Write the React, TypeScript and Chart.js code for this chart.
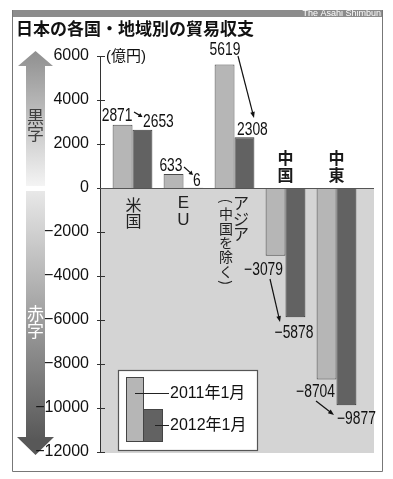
import React, { useEffect, useRef } from 'react';
import { Chart, registerables } from 'chart.js';

Chart.register(...registerables);

const categories = ['米国', 'EU', 'アジア', '中国', '中東'];
const categoryNotes = ['', '', '中国を除く', '', ''];
const seriesLabels = ['2011年1月', '2012年1月'];
const values2011 = [2871, 633, 5619, -3079, -8704];
const values2012 = [2653, 6, 2308, -5878, -9877];
const yMin = -12000;
const yMax = 6000;
const yStep = 2000;
const unitLabel = '(億円)';
const titleText = '日本の各国・地域別の貿易収支';
const sourceText = 'The Asahi Shimbun';
const surplusText = '黒字';
const deficitText = '赤字';

const W = 393;
const H = 479;
const PLOT_L = 100;
const PLOT_R = 374;
const CJK = '"Noto Sans CJK JP", sans-serif';
const LAT = '"Liberation Sans", Arial, sans-serif';

const fmt = (v: number) => (v < 0 ? '\u2212' + Math.abs(v) : String(v));

function ntext(ctx: CanvasRenderingContext2D, s: string, x: number, y: number, align: CanvasTextAlign) {
  ctx.save();
  ctx.translate(x, y);
  ctx.scale(0.77, 1);
  ctx.textAlign = align;
  ctx.fillText(s, 0, 0);
  ctx.restore();
}

function arrow(ctx: CanvasRenderingContext2D, x1: number, y1: number, x2: number, y2: number, head = 5) {
  const a = Math.atan2(y2 - y1, x2 - x1);
  ctx.beginPath();
  ctx.moveTo(x1, y1);
  ctx.lineTo(x2 - Math.cos(a) * head * 0.8, y2 - Math.sin(a) * head * 0.8);
  ctx.stroke();
  ctx.beginPath();
  ctx.moveTo(x2, y2);
  ctx.lineTo(x2 - head * Math.cos(a) + 2.3 * Math.sin(a), y2 - head * Math.sin(a) - 2.3 * Math.cos(a));
  ctx.lineTo(x2 - head * Math.cos(a) - 2.3 * Math.sin(a), y2 - head * Math.sin(a) + 2.3 * Math.cos(a));
  ctx.closePath();
  ctx.fill();
}

function vtext(ctx: CanvasRenderingContext2D, s: string, cx: number, y: number, step: number) {
  const chars = Array.from(s);
  chars.forEach((ch, i) => ctx.fillText(ch, cx, y + i * step));
}

const decor = {
  id: 'decor',
  beforeDraw(chart: any) {
    const ctx: CanvasRenderingContext2D = chart.ctx;
    const ys = chart.scales.y;
    const y0 = ys.getPixelForValue(0);
    const yb = ys.getPixelForValue(yMin);
    ctx.save();
    // header stripe
    ctx.fillStyle = '#8c8c8c';
    ctx.fillRect(12, 10, 371, 7);
    ctx.fillStyle = '#fff';
    ctx.font = '9px ' + LAT;
    ctx.textAlign = 'right';
    ctx.textBaseline = 'middle';
    ctx.fillText(sourceText, 381, 13.5);
    // frame
    ctx.strokeStyle = '#777';
    ctx.lineWidth = 1;
    ctx.beginPath();
    ctx.moveTo(12.5, 10);
    ctx.lineTo(12.5, 471.5);
    ctx.lineTo(382.5, 471.5);
    ctx.lineTo(382.5, 10);
    ctx.stroke();
    // title
    ctx.fillStyle = '#111';
    ctx.font = 'bold 17px ' + CJK;
    ctx.textAlign = 'left';
    ctx.fillText(titleText, 16, 29);
    // negative area
    ctx.fillStyle = '#d4d4d4';
    ctx.fillRect(PLOT_L, y0, PLOT_R - PLOT_L, yb - y0 + 1);
    // up arrow
    let g = ctx.createLinearGradient(0, 51, 0, 186);
    g.addColorStop(0, '#8f8f8f');
    g.addColorStop(1, '#f4f4f4');
    ctx.fillStyle = g;
    ctx.beginPath();
    ctx.moveTo(35.5, 51);
    ctx.lineTo(53, 66);
    ctx.lineTo(45, 66);
    ctx.lineTo(45, 186);
    ctx.lineTo(26, 186);
    ctx.lineTo(26, 66);
    ctx.lineTo(18, 66);
    ctx.closePath();
    ctx.fill();
    // down arrow
    g = ctx.createLinearGradient(0, 191, 0, 440);
    g.addColorStop(0, '#e8e8e8');
    g.addColorStop(1, '#585858');
    ctx.fillStyle = g;
    ctx.beginPath();
    ctx.moveTo(26, 191);
    ctx.lineTo(45, 191);
    ctx.lineTo(45, 437);
    ctx.lineTo(54, 437);
    ctx.lineTo(35.5, 455);
    ctx.lineTo(17, 437);
    ctx.lineTo(26, 437);
    ctx.closePath();
    ctx.fill();
    ctx.textAlign = 'center';
    ctx.textBaseline = 'middle';
    ctx.font = '17px ' + CJK;
    ctx.fillStyle = '#404040';
    vtext(ctx, surplusText, 35.5, 117, 17);
    ctx.fillStyle = '#ffffff';
    vtext(ctx, deficitText, 35.5, 314, 17);
    ctx.restore();
  },
  afterDatasetsDraw(chart: any) {
    const ctx: CanvasRenderingContext2D = chart.ctx;
    const ys = chart.scales.y;
    const xs = chart.scales.x;
    const py = (v: number) => ys.getPixelForValue(v);
    const gc = (i: number) => xs.getPixelForValue(i);
    const y0 = py(0);
    ctx.save();
    // axis
    ctx.strokeStyle = '#333';
    ctx.lineWidth = 1;
    ctx.beginPath();
    ctx.moveTo(100.5, py(yMax));
    ctx.lineTo(100.5, py(yMin));
    for (let v = yMin; v <= yMax; v += yStep) {
      const yy = Math.round(py(v)) + 0.5;
      ctx.moveTo(97, yy);
      ctx.lineTo(105, yy);
    }
    ctx.stroke();
    ctx.strokeStyle = '#555';
    ctx.beginPath();
    ctx.moveTo(PLOT_L, Math.round(y0) + 0.5);
    ctx.lineTo(PLOT_R, Math.round(y0) + 0.5);
    ctx.stroke();
    // unit
    ctx.fillStyle = '#111';
    ctx.font = '15px "Liberation Sans", ' + CJK;
    ctx.textAlign = 'left';
    ctx.textBaseline = 'middle';
    ctx.fillText(unitLabel, 106, 57);

    // category labels
    ctx.textAlign = 'center';
    ctx.fillStyle = '#222';
    ctx.font = '16px ' + CJK;
    vtext(ctx, categories[0], gc(0) + 1, y0 + 17, 16);
    ctx.font = '17px ' + LAT;
    vtext(ctx, categories[1], gc(1), y0 + 15, 17);
    ctx.font = '16px ' + CJK;
    vtext(ctx, categories[2], gc(2) + 6.5, y0 + 15, 15.5);
    ctx.font = '14px ' + CJK;
    const nx = gc(2) - 8.5;
    const noteChars = Array.from(categoryNotes[2]);
    ctx.save();
    ctx.translate(nx, y0 + 13);
    ctx.rotate(Math.PI / 2);
    ctx.fillText('(', 0, 0);
    ctx.restore();
    vtext(ctx, categoryNotes[2], nx, y0 + 26, 14.3);
    ctx.save();
    ctx.translate(nx, y0 + 26 + noteChars.length * 14.3 - 3);
    ctx.rotate(Math.PI / 2);
    ctx.fillText(')', 0, 0);
    ctx.restore();
    ctx.font = 'bold 16px ' + CJK;
    ctx.fillStyle = '#1a1a1a';
    vtext(ctx, categories[3], gc(3), y0 - 30, 17);
    vtext(ctx, categories[4], gc(4), y0 - 30, 17);

    // data labels
    ctx.fillStyle = '#111';
    ctx.strokeStyle = '#111';
    ctx.lineWidth = 1.2;
    ctx.font = '18px ' + LAT;
    ctx.textBaseline = 'alphabetic';
    // US
    ntext(ctx, fmt(values2011[0]), gc(0), py(values2011[0]) - 3.5, 'right');
    arrow(ctx, gc(0) + 1.5, 112, gc(0) + 10, 117, 4);
    ntext(ctx, fmt(values2012[0]), gc(0) + 10.5, py(values2012[0]) - 2.5, 'left');
    // EU
    ntext(ctx, fmt(values2011[1]), gc(1) - 1, py(values2011[1]) - 3, 'right');
    arrow(ctx, gc(1) + 0.5, 167, gc(1) + 9.5, 175, 4);
    ntext(ctx, fmt(values2012[1]), gc(1) + 9.5, py(values2012[1]) - 1.5, 'left');
    // Asia
    ntext(ctx, fmt(values2011[2]), gc(2) - 9.5, py(values2011[2]) - 9, 'center');
    arrow(ctx, gc(2) + 3.5, 56, gc(2) + 19.5, 118, 6);
    ntext(ctx, fmt(values2012[2]), gc(2) + 2.5, py(values2012[2]) - 2, 'left');
    // China
    ntext(ctx, fmt(values2011[3]), gc(3) - 2.5, py(values2011[3]) + 19.5, 'right');
    arrow(ctx, gc(3) - 15.5, 279, gc(3) - 5.5, 322, 6);
    ntext(ctx, fmt(values2012[3]), gc(3) + 8.5, py(values2012[3]) + 20.5, 'center');
    // Middle East
    ntext(ctx, fmt(values2011[4]), gc(4) - 1.5, py(values2011[4]) + 18, 'right');
    arrow(ctx, gc(4) - 20.5, 401, gc(4) - 2.5, 415, 6);
    ntext(ctx, fmt(values2012[4]), gc(4) + 0.5, py(values2012[4]) + 18.5, 'left');

    // legend
    const ds = chart.data.datasets;
    ctx.fillStyle = '#fff';
    ctx.fillRect(118.5, 370.5, 139, 80);
    ctx.strokeStyle = '#555';
    ctx.lineWidth = 1.2;
    ctx.strokeRect(118.5, 370.5, 139, 80);
    ctx.lineWidth = 1;
    ctx.strokeStyle = '#444';
    ctx.fillStyle = ds[0].backgroundColor;
    ctx.fillRect(126.5, 377.5, 17, 64);
    ctx.strokeRect(126.5, 377.5, 17, 64);
    ctx.fillStyle = ds[1].backgroundColor;
    ctx.fillRect(143.5, 409.5, 19, 32);
    ctx.strokeRect(143.5, 409.5, 19, 32);
    ctx.strokeStyle = '#222';
    ctx.beginPath();
    ctx.moveTo(135, 393.5);
    ctx.lineTo(169, 393.5);
    ctx.moveTo(155, 425.5);
    ctx.lineTo(169, 425.5);
    ctx.stroke();
    ctx.fillStyle = '#111';
    ctx.font = '16px "Liberation Sans", ' + CJK;
    ctx.textAlign = 'left';
    ctx.textBaseline = 'middle';
    ctx.fillText(ds[0].label, 170, 393.5);
    ctx.fillText(ds[1].label, 170, 426);
    ctx.restore();
  },
};

export default function App() {
  const ref = useRef<HTMLCanvasElement>(null);
  useEffect(() => {
    if (!ref.current) return;
    const chart = new Chart(ref.current, {
      type: 'bar',
      data: {
        labels: categories,
        datasets: [
          {
            label: seriesLabels[0],
            data: values2011,
            backgroundColor: '#b6b6b6',
            borderColor: '#4a4a4a',
            borderWidth: 1,
            categoryPercentage: 0.78,
            barPercentage: 1,
          },
          {
            label: seriesLabels[1],
            data: values2012,
            backgroundColor: '#626262',
            borderColor: '#3a3a3a',
            borderWidth: 1,
            categoryPercentage: 0.78,
            barPercentage: 1,
          },
        ],
      },
      options: {
        responsive: false,
        animation: false,
        devicePixelRatio: 1,
        layout: { padding: { left: 0, right: 31, top: 56, bottom: 27 } },
        plugins: { legend: { display: false }, tooltip: { enabled: false } },
        scales: {
          x: { display: false },
          y: {
            min: yMin,
            max: yMax,
            afterFit: (s: any) => {
              s.width = 107;
            },
            grid: { display: false },
            border: { display: false },
            ticks: {
              stepSize: yStep,
              padding: 10,
              color: '#111',
              font: { family: LAT, size: 16 },
              callback: (v: any) => fmt(Number(v)),
            },
          },
        },
      },
      plugins: [decor],
    });
    return () => chart.destroy();
  }, []);
  return (
    <div style={{ position: 'absolute', left: 0, top: 0, width: W, height: H, background: '#fff' }}>
      <canvas ref={ref} width={W} height={H} style={{ width: W, height: H, display: 'block' }} />
    </div>
  );
}
